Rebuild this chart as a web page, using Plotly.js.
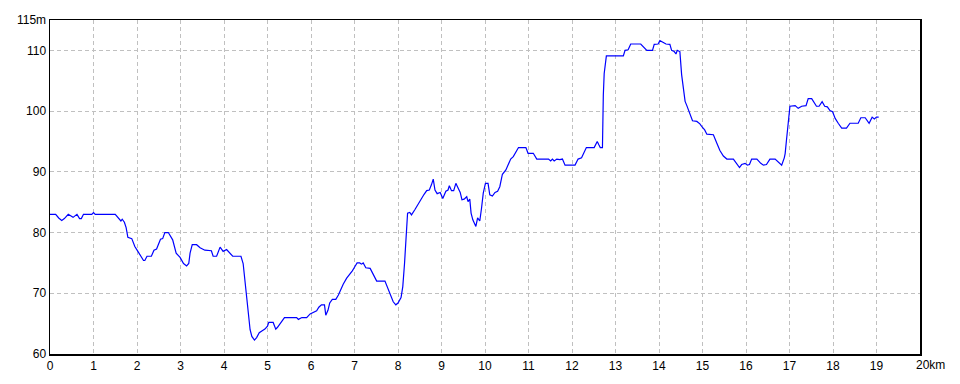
<!DOCTYPE html>
<html>
<head>
<meta charset="utf-8">
<script src="https://cdn.plot.ly/plotly-3.0.1.min.js"></script>
<style>html,body{margin:0;padding:0;background:#fff;}#chart{width:960px;height:384px;}</style>
</head>
<body>
<div id="chart"></div>
<script>
const distanceKm = [
0.00,0.13,0.20,0.27,0.33,0.42,0.53,0.62,0.68,0.72,0.77,0.96,1.00,1.04,1.50,1.59,1.63,1.66,1.71,1.75,
1.79,1.88,1.95,2.02,2.10,2.15,2.18,2.23,2.33,2.39,2.45,2.54,2.59,2.64,2.72,2.82,2.90,2.99,3.07,3.14,
3.19,3.22,3.27,3.37,3.45,3.56,3.71,3.75,3.83,3.91,3.98,4.06,4.20,4.39,4.44,4.51,4.56,4.60,4.64,4.70,
4.75,4.81,4.87,4.94,5.00,5.03,5.13,5.19,5.23,5.31,5.39,5.67,5.71,5.79,5.90,5.98,6.05,6.13,6.18,6.24,
6.31,6.34,6.39,6.43,6.49,6.57,6.63,6.69,6.74,6.82,6.90,6.95,7.01,7.06,7.12,7.16,7.20,7.26,7.36,7.43,
7.51,7.70,7.75,7.82,7.89,7.95,8.00,8.07,8.11,8.15,8.19,8.22,8.27,8.31,8.39,8.47,8.54,8.60,8.66,8.72,
8.77,8.81,8.85,8.90,8.97,9.03,9.10,9.15,9.18,9.23,9.28,9.33,9.37,9.43,9.47,9.52,9.58,9.61,9.65,9.68,
9.72,9.79,9.83,9.88,9.92,9.96,10.01,10.07,10.11,10.17,10.23,10.29,10.34,10.40,10.48,10.53,10.59,10.65,10.71,10.77,
10.94,10.99,11.11,11.19,11.46,11.51,11.55,11.59,11.65,11.72,11.78,11.84,12.07,12.14,12.22,12.28,12.33,12.51,12.55,12.58,
12.62,12.65,12.70,12.705,12.72,12.74,12.77,12.79,13.18,13.22,13.29,13.35,13.58,13.72,13.85,13.89,13.98,14.02,14.10,14.16,
14.25,14.29,14.35,14.39,14.42,14.46,14.48,14.52,14.56,14.60,14.64,14.71,14.77,14.87,14.94,15.00,15.05,15.10,15.25,15.33,
15.40,15.48,15.56,15.71,15.78,15.85,15.90,15.98,16.03,16.08,16.13,16.25,16.34,16.40,16.47,16.55,16.67,16.74,16.82,16.88,
16.90,16.93,16.97,17.01,17.13,17.20,17.28,17.38,17.43,17.51,17.62,17.68,17.75,17.81,17.87,17.93,17.99,18.05,18.12,18.20,
18.31,18.39,18.58,18.64,18.74,18.83,18.90,18.95,19.00,19.05
];
const elevationM = [
83.0,83.0,82.4,82.0,82.3,83.0,82.5,83.0,82.3,82.3,83.0,83.0,83.3,83.0,83.0,82.2,81.9,82.2,81.7,80.8,
79.2,79.0,77.7,76.9,76.0,75.4,75.4,76.1,76.1,77.1,77.3,78.9,79.0,80.0,80.0,78.8,76.6,75.9,74.9,74.5,
74.9,76.6,78.0,78.0,77.5,77.1,77.0,76.1,76.1,77.6,76.9,77.2,76.1,76.1,74.9,70.5,67.2,64.0,62.9,62.3,
62.7,63.5,63.8,64.1,64.6,65.2,65.2,64.1,64.4,65.3,66.0,66.0,65.7,66.0,66.0,66.6,66.8,67.1,67.7,68.1,
68.1,66.4,67.2,68.4,69.0,69.0,69.7,70.8,71.5,72.5,73.2,73.7,74.4,75.0,75.0,74.8,75.0,74.2,74.1,73.2,
72.0,72.0,71.1,69.7,68.6,68.1,68.4,69.3,71.1,74.9,79.9,83.2,83.3,82.9,83.8,84.8,85.5,86.3,86.9,87.0,
87.9,88.8,87.0,86.4,86.6,85.6,86.8,87.0,87.7,86.9,86.9,88.1,87.5,86.6,85.4,85.5,85.9,85.1,85.5,83.2,
82.1,81.0,82.4,81.9,84.0,86.5,88.1,88.1,86.2,86.0,86.6,86.8,87.55,89.6,90.3,91.1,92.1,92.5,93.15,94.0,
94.0,93.05,93.05,92.1,92.1,91.8,92.1,91.8,92.1,92.0,92.1,91.1,91.1,92.1,92.3,93.3,94.0,94.0,94.7,95.0,
94.4,94.0,94.0,96.9,102.65,106.2,108.4,109.1,109.1,110.0,110.1,111.05,111.05,110.0,110.0,111.0,111.05,111.6,111.3,111.05,
111.0,110.0,109.8,109.4,110.0,109.9,109.8,106.0,103.6,101.6,100.9,99.6,98.4,98.3,97.9,97.3,96.9,96.2,96.1,94.7,
93.5,92.6,92.1,92.1,91.3,90.7,91.2,91.4,91.1,91.2,92.1,92.1,91.4,91.1,91.2,92.1,92.1,91.7,91.1,92.3,
93.0,95.2,98.5,100.8,100.9,100.45,100.8,100.9,102.05,102.05,100.8,100.8,101.55,100.8,100.7,100.1,99.9,98.8,98.0,97.2,
97.2,98.0,98.0,98.9,98.9,98.0,99.0,98.7,99.0,99.0
];
const xTickVals = [0,1,2,3,4,5,6,7,8,9,10,11,12,13,14,15,16,17,18,19];
const xTickText = ["0","1","2","3","4","5","6","7","8","9","10","11","12","13","14","15","16","17","18","19"];
const xEndLabel = "20km";
const yTickVals = [60,70,80,90,100,110,115];
const yTickText = ["60","70","80","90","100","110","115m"];

const font = {family: '"Liberation Sans Narrow", "Liberation Sans", Arial, sans-serif', size: 12, color: '#000'};

const trace = {
  x: distanceKm, y: elevationM, type: 'scatter', mode: 'lines',
  line: {color: '#0000ff', width: 1.2}, hoverinfo: 'skip'
};

const layout = {
  width: 960, height: 384,
  margin: {l: 50, r: 40, t: 20, b: 30, pad: 0},
  paper_bgcolor: '#ffffff', plot_bgcolor: '#ffffff',
  showlegend: false,
  font: font,
  xaxis: {
    range: [0, 20], tickmode: 'array', tickvals: xTickVals, ticktext: xTickText,
    showgrid: true, gridcolor: '#c0c0c0', griddash: '4px,3px', gridwidth: 1,
    showline: true, linecolor: '#000', linewidth: 1.5, mirror: true,
    zeroline: false, ticks: '', ticklen: 0, tickfont: font
  },
  yaxis: {
    range: [60, 115], tickmode: 'array', tickvals: yTickVals, ticktext: yTickText,
    showgrid: true, gridcolor: '#c0c0c0', griddash: '4px,3px', gridwidth: 1,
    showline: true, linecolor: '#000', linewidth: 1.5, mirror: true,
    zeroline: false, ticks: '', ticklen: 0, tickfont: font
  },
  annotations: [{
    text: xEndLabel, xref: 'x', yref: 'paper', x: 20, y: 0,
    xanchor: 'left', yanchor: 'top', xshift: -6, yshift: -2,
    showarrow: false, font: font
  }]
};

Plotly.newPlot('chart', [trace], layout, {staticPlot: true, displayModeBar: false});
</script>
</body>
</html>
